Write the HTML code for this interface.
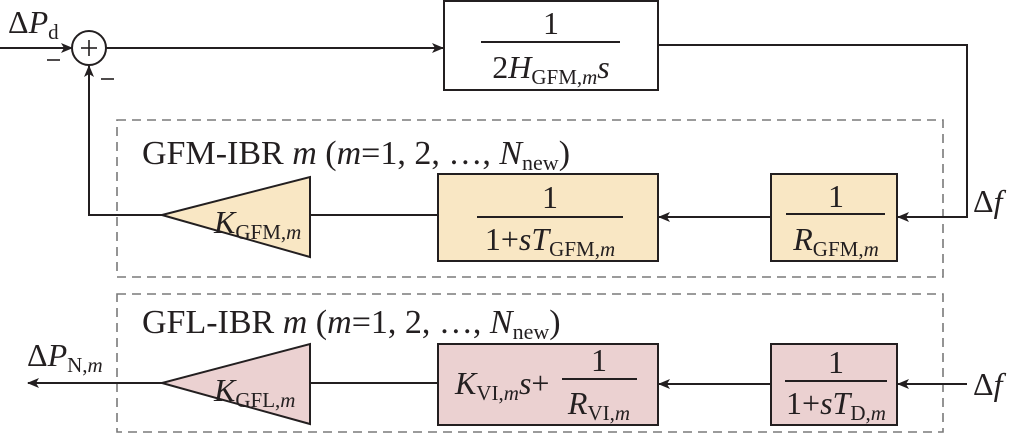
<!DOCTYPE html>
<html><head><meta charset="utf-8"><style>
body{margin:0;background:#fff}
svg{display:block}
text{font-family:"Liberation Serif","Times New Roman",serif;fill:#231f20}
.i{font-style:italic}
</style></head><body>
<svg width="1013" height="435" viewBox="0 0 1013 435" xmlns="http://www.w3.org/2000/svg">
<defs><marker id="a" markerWidth="12" markerHeight="10" refX="11" refY="5" orient="auto" markerUnits="userSpaceOnUse"><path d="M0,0 L12,5 L0,10 L3,5z" fill="#231f20"/></marker></defs>
<g stroke="#231f20" stroke-width="2" fill="none">
<rect x="117" y="120" width="826" height="157" stroke="#7a7a7a" stroke-width="1.6" stroke-dasharray="9,6"/>
<rect x="117" y="294" width="826" height="138" stroke="#7a7a7a" stroke-width="1.6" stroke-dasharray="9,6"/>
<circle cx="89" cy="48" r="17"/>
<line x1="0" y1="48" x2="72" y2="48" marker-end="url(#a)"/>
<line x1="106" y1="48" x2="443" y2="48" marker-end="url(#a)"/>
<rect x="444" y="1" width="214" height="89"/>
<polyline points="658,45 967,45 967,217 898,217" marker-end="url(#a)"/>
<rect x="771" y="174" width="126" height="87" fill="#f9e7c4"/>
<line x1="771" y1="217" x2="659" y2="217" marker-end="url(#a)"/>
<rect x="438" y="174" width="220" height="87" fill="#f9e7c4"/>
<line x1="438" y1="215" x2="310" y2="215"/>
<polygon points="162,215 310,177 310,257" fill="#f9e7c4"/>
<polyline points="162,215 89,215 89,66" marker-end="url(#a)"/>
<line x1="967" y1="384" x2="898" y2="384" marker-end="url(#a)"/>
<rect x="771" y="344" width="126" height="81" fill="#ebd1d1"/>
<line x1="771" y1="384" x2="659" y2="384" marker-end="url(#a)"/>
<rect x="438" y="344" width="220" height="81" fill="#ebd1d1"/>
<line x1="438" y1="383" x2="310" y2="383"/>
<polygon points="162,383 310,344 310,424" fill="#ebd1d1"/>
<line x1="162" y1="383" x2="28" y2="383" marker-end="url(#a)"/>
<line x1="481" y1="42" x2="620" y2="42"/>
<line x1="477" y1="217" x2="623" y2="217"/>
<line x1="786" y1="214" x2="885" y2="214"/>
<line x1="785" y1="381" x2="887" y2="381"/>
<line x1="562" y1="379" x2="637" y2="379"/>
</g>
<g stroke="#231f20" stroke-width="1.6">
<line x1="81" y1="48" x2="97" y2="48"/><line x1="89" y1="40" x2="89" y2="56"/>
<line x1="47" y1="60" x2="60" y2="60"/><line x1="101" y1="79" x2="114" y2="79"/>
</g>
<text x="8" y="33" font-size="32">Δ<tspan class="i">P</tspan><tspan font-size="21" dy="6">d</tspan></text>
<text x="551" y="34" font-size="32" text-anchor="middle">1</text>
<text x="551" y="78" font-size="32" text-anchor="middle">2<tspan class="i">H</tspan><tspan font-size="21" dy="6">GFM,<tspan class="i">m</tspan></tspan><tspan class="i" dy="-6">s</tspan></text>
<text x="142" y="164" font-size="34">GFM-IBR <tspan class="i">m</tspan> (<tspan class="i">m</tspan>=1, 2, …, <tspan class="i">N</tspan><tspan font-size="22" dy="6">new</tspan><tspan dy="-6">)</tspan></text>
<text x="142" y="333" font-size="34">GFL-IBR <tspan class="i">m</tspan> (<tspan class="i">m</tspan>=1, 2, …, <tspan class="i">N</tspan><tspan font-size="22" dy="6">new</tspan><tspan dy="-6">)</tspan></text>
<text x="973" y="212" font-size="32">Δ<tspan class="i">f</tspan></text>
<text x="973" y="395" font-size="32">Δ<tspan class="i">f</tspan></text>
<text x="836" y="207" font-size="32" text-anchor="middle">1</text>
<text x="836" y="250" font-size="32" text-anchor="middle"><tspan class="i">R</tspan><tspan font-size="21" dy="6">GFM,<tspan class="i">m</tspan></tspan></text>
<text x="550" y="208" font-size="32" text-anchor="middle">1</text>
<text x="550" y="250" font-size="32" text-anchor="middle">1+<tspan class="i">sT</tspan><tspan font-size="21" dy="6">GFM,<tspan class="i">m</tspan></tspan></text>
<text x="214" y="233" font-size="32"><tspan class="i">K</tspan><tspan font-size="21" dy="6">GFM,<tspan class="i">m</tspan></tspan></text>
<text x="836" y="373" font-size="32" text-anchor="middle">1</text>
<text x="836" y="414" font-size="32" text-anchor="middle">1+<tspan class="i">sT</tspan><tspan font-size="21" dy="6">D,<tspan class="i">m</tspan></tspan></text>
<text x="455" y="394" font-size="32"><tspan class="i">K</tspan><tspan font-size="21" dy="6">VI,<tspan class="i">m</tspan></tspan><tspan class="i" dy="-6">s</tspan>+</text>
<text x="599" y="371" font-size="32" text-anchor="middle">1</text>
<text x="599" y="414" font-size="32" text-anchor="middle"><tspan class="i">R</tspan><tspan font-size="21" dy="6">VI,<tspan class="i">m</tspan></tspan></text>
<text x="214" y="401" font-size="32"><tspan class="i">K</tspan><tspan font-size="21" dy="6">GFL,<tspan class="i">m</tspan></tspan></text>
<text x="27" y="366" font-size="32">Δ<tspan class="i">P</tspan><tspan font-size="21" dy="6">N,<tspan class="i">m</tspan></tspan></text>
</svg>
</body></html>
